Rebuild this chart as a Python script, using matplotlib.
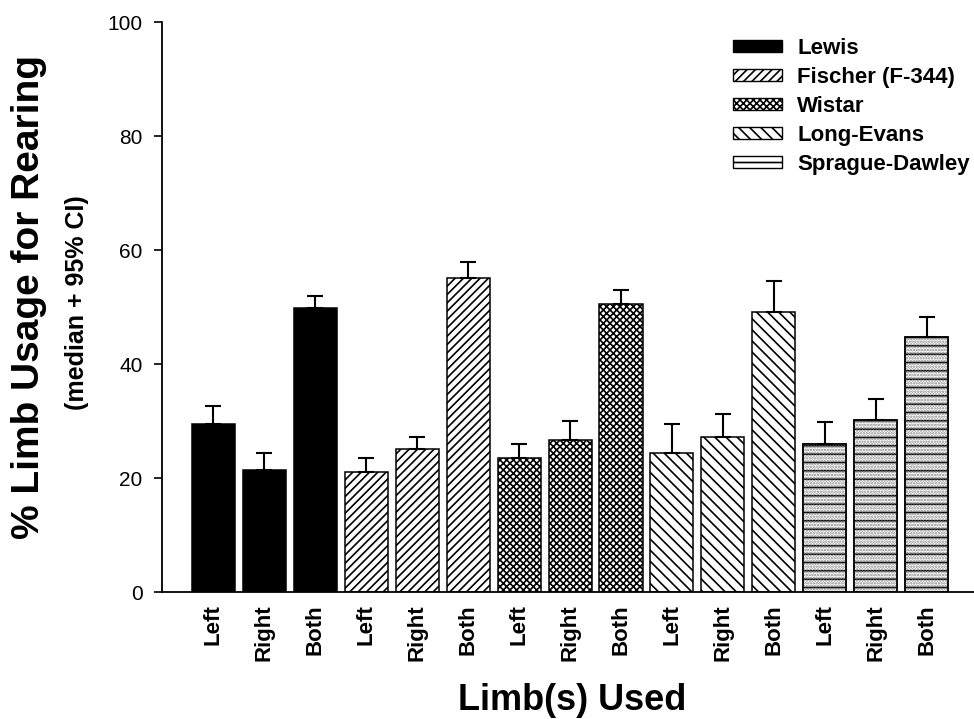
import matplotlib
matplotlib.use("Agg")
import matplotlib.pyplot as plt
from matplotlib.patches import Patch
import numpy as np

plt.rcParams['font.family'] = ['Liberation Sans', 'DejaVu Sans']
plt.rcParams['hatch.linewidth'] = 1.2
plt.rcParams['hatch.color'] = 'black'

strains = ["Lewis", "Fischer (F-344)", "Wistar", "Long-Evans", "Sprague-Dawley"]
limbs = ["Left", "Right", "Both"]
lewis_median = [29.5, 21.4, 49.8]
lewis_upper = [32.6, 24.4, 51.9]
fischer_median = [21.0, 25.1, 55.1]
fischer_upper = [23.5, 27.2, 57.9]
wistar_median = [23.5, 26.7, 50.5]
wistar_upper = [26.0, 30.0, 53.0]
longevans_median = [24.4, 27.2, 49.1]
longevans_upper = [29.5, 31.2, 54.6]
sd_median = [26.0, 30.2, 44.7]
sd_upper = [29.8, 33.9, 48.2]
yticks = [0, 20, 40, 60, 80, 100]

medians = [lewis_median, fischer_median, wistar_median, longevans_median, sd_median]
uppers = [lewis_upper, fischer_upper, wistar_upper, longevans_upper, sd_upper]
styles = [
    dict(facecolor='black', hatch=None),
    dict(facecolor='white', hatch='////'),
    dict(facecolor='white', hatch='xxxxx'),
    dict(facecolor='white', hatch='\\\\\\'),
    dict(facecolor='white', hatch='--'),
]

fig = plt.figure(figsize=(9.74, 7.19), dpi=100)
ax = fig.add_axes([162/974, 1-592/719, 1-162/974, (592-22)/719])

width = 0.845
labels = []
for i, (med, up, st) in enumerate(zip(medians, uppers, styles)):
    x = np.arange(3) + 3*i
    ax.bar(x, med, width=width, facecolor=st['facecolor'], hatch=st['hatch'],
           edgecolor='black', linewidth=1.1, zorder=2)
    if i == 4:
        # lighter dotted texture between the horizontal lines
        ax.bar(x, med, width=width, facecolor='none', hatch='......',
               edgecolor='#888888', linewidth=0, zorder=2)
        ax.bar(x, med, width=width, facecolor='none', edgecolor='black',
               linewidth=1.1, zorder=2)
    err = np.array(up) - np.array(med)
    ax.errorbar(x, med, yerr=[np.zeros(3), err], fmt='none', ecolor='black',
                elinewidth=1.5, capsize=5.5, capthick=1.5, zorder=3)
    labels += limbs

ax.set_xlim(-1.01, 14.93)
ax.set_ylim(0, 100)
ax.set_yticks(yticks)
ax.set_yticklabels([str(t) for t in yticks], fontsize=15)
ax.set_xticks(np.arange(15))
ax.set_xticklabels(labels, rotation=90, fontsize=16, fontweight='bold')
ax.tick_params(axis='x', length=0, pad=9)
ax.tick_params(axis='y', length=6, width=1.2, pad=8, direction='out')
for s in ['top', 'right']:
    ax.spines[s].set_visible(False)
for s in ['left', 'bottom']:
    ax.spines[s].set_linewidth(1.3)

fig.text(29/974, 1-297/719, "% Limb Usage for Rearing", rotation=90,
         fontsize=28, fontweight='bold', ha='center', va='center')
fig.text(77/974, 1-303/719, "(median + 95% CI)", rotation=90,
         fontsize=18, fontweight='bold', ha='center', va='center')
fig.text(572/974, 1-700/719, "Limb(s) Used", fontsize=26, fontweight='bold',
         ha='center', va='center')

handles = [Patch(facecolor=st['facecolor'], hatch=st['hatch'], edgecolor='black',
                 linewidth=1.0) for st in styles]
fig.legend(handles, strains, loc='upper left', bbox_to_anchor=(733/974, 1-38/719),
           frameon=False, prop=dict(size=16, weight='bold'), handlelength=2.2,
           handleheight=0.5, handletextpad=0.7, labelspacing=0.36,
           borderpad=0, borderaxespad=0)

fig.savefig("out.png", dpi=100)
